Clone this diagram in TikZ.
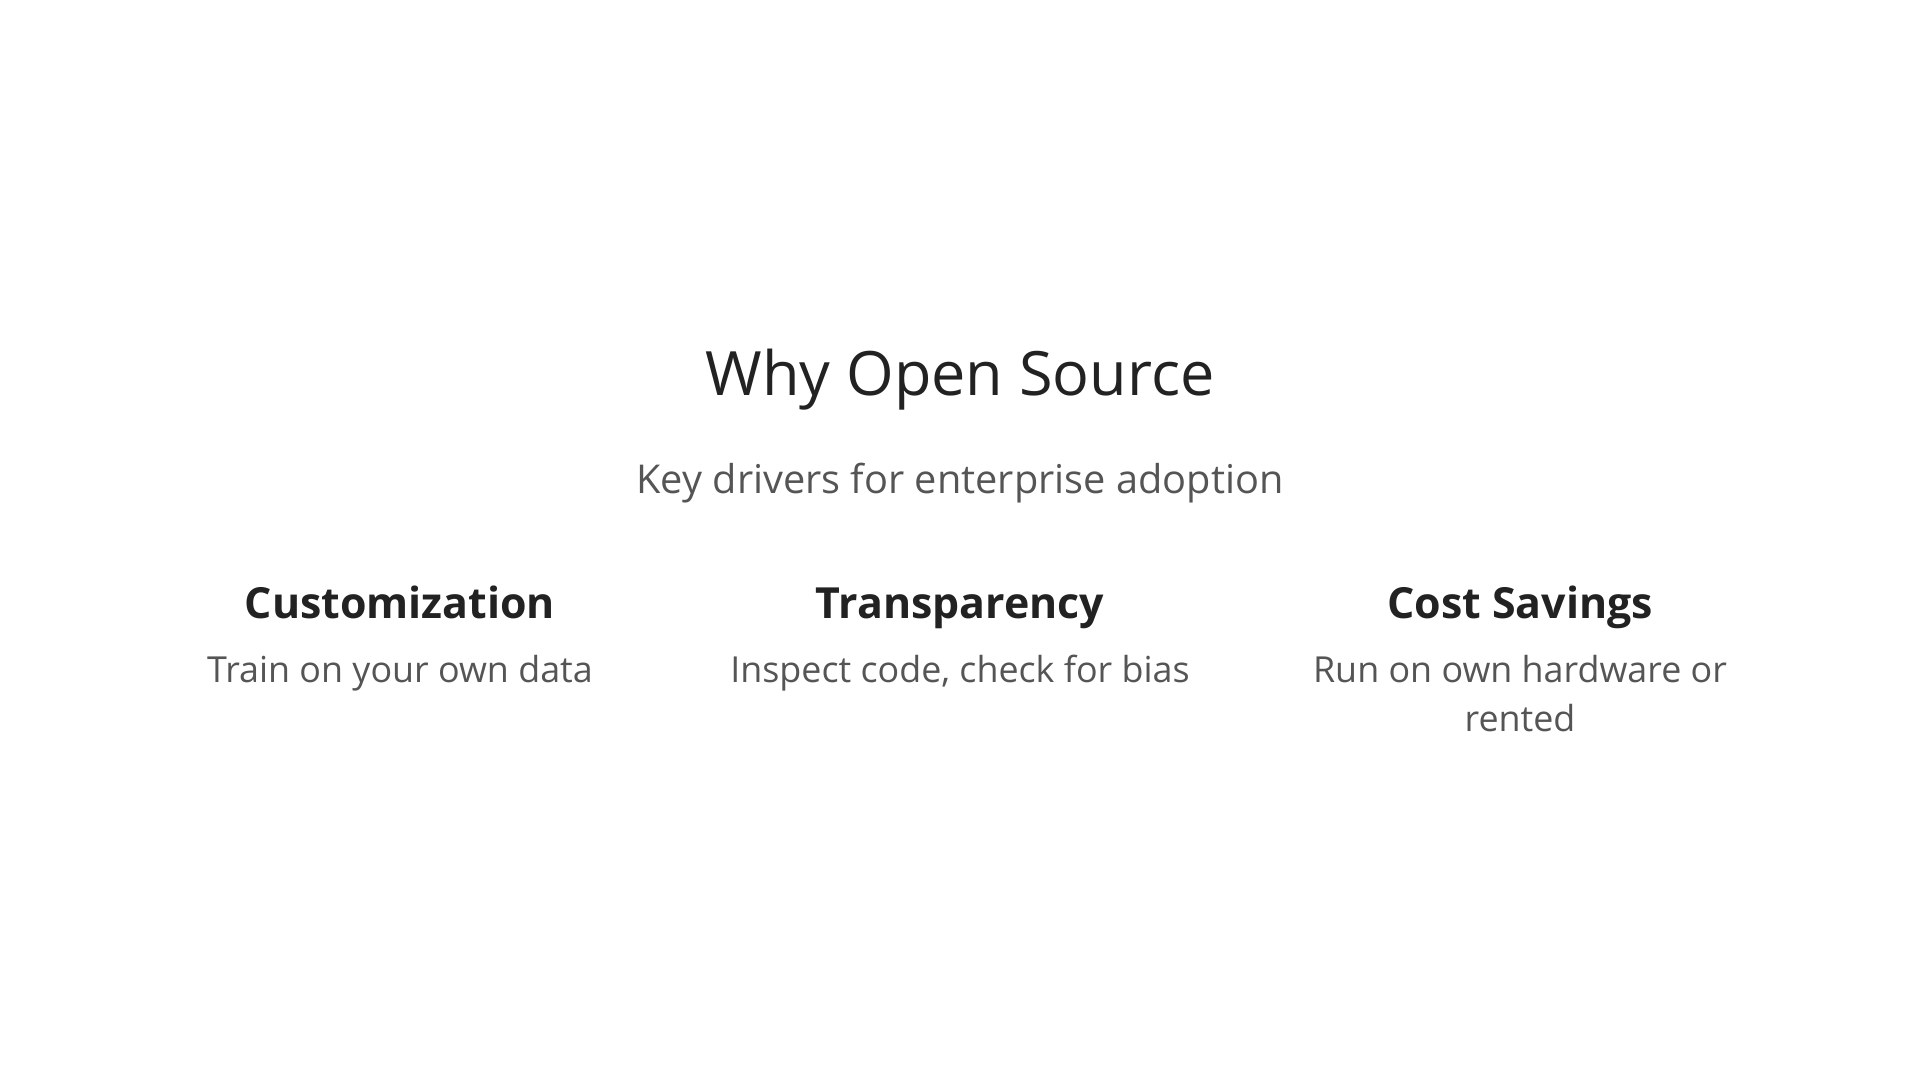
\documentclass[tikz,border=0pt]{standalone}
\usepackage{fontspec}
\setmainfont{Open Sans}
\usetikzlibrary{positioning}
\definecolor{ink}{HTML}{222222}
\definecolor{soft}{HTML}{555555}
\begin{document}
\begin{tikzpicture}
        \tikzset{heading/.style = {text=ink,anchor=base,font=\fontsize{12.2}{15}\selectfont\bfseries}}
        \tikzset{blurb/.style = {text=soft,font=\fontsize{10.2}{13.8}\selectfont,align=center,below=0.24cm of #1.base}}
        \useasboundingbox (0,0) rectangle (19.2,10.8);
        % title block
        \node[text=ink,font=\fontsize{17.4}{21}\selectfont] (title) at (9.6,7.0) {Why Open Source};
        \node[text=soft,font=\fontsize{11.3}{14}\selectfont] (sub) at (9.6,5.97) {Key drivers for enterprise adoption};
        % three drivers
        \node[heading] (custom) at (4.0,4.61) {Customization};
        \node[heading] (trans) at (9.6,4.61) {Transparency};
        \node[heading] (cost) at (15.2,4.61) {Cost Savings};
        \node[blurb=custom] (customtxt) {Train on your own data};
        \node[blurb=trans] (transtxt) {Inspect code, check for bias};
        \node[blurb=cost] (costtxt) {Run on own hardware or\\rented};
\end{tikzpicture}
\end{document}
